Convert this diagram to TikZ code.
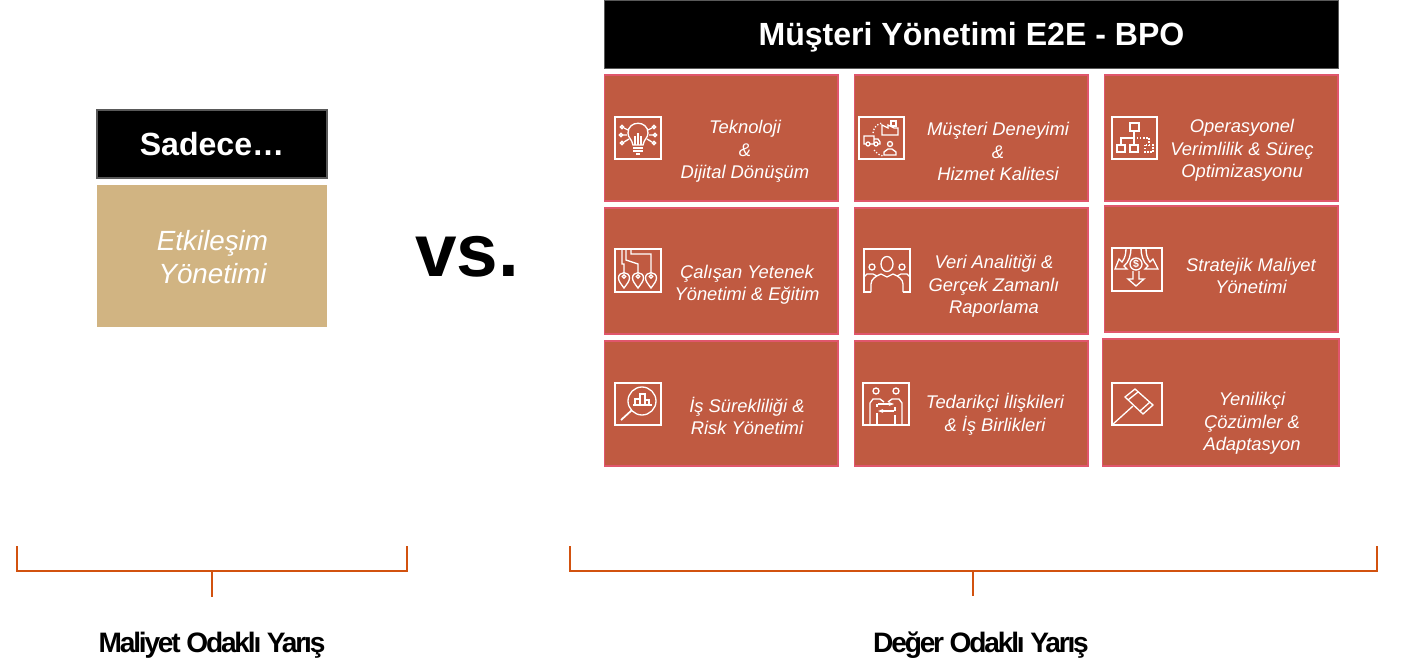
\documentclass[tikz,border=0pt]{standalone}
\usepackage{fontspec}
\setmainfont{Liberation Sans}
\newfontfamily\tightfont[LetterSpace=-7.8]{Liberation Sans}
\usetikzlibrary{arrows.meta}
\usetikzlibrary{positioning}
\definecolor{tilered}{HTML}{C05A41}
\definecolor{tileedge}{HTML}{E0566C}
\definecolor{tantile}{HTML}{D1B482}
\definecolor{bracketorange}{HTML}{D2520F}
\tikzset{
    tilebox/.style={rectangle, draw=tileedge, line width=0.6pt, fill=tilered, inner sep=0pt},
    tiletext/.style={align=center, text=white, inner sep=0pt, font=\fontsize{10.45}{12.8}\selectfont\itshape},
    headbox/.style={rectangle, draw=black!65, line width=0.6pt, fill=black, text=white, inner sep=0pt, text height=13pt, text depth=0pt, font=\fontsize{18.25}{22}\selectfont\bfseries},
    bracketline/.style={draw=bracketorange, line width=0.75pt},
    sumtext/.style={inner sep=0pt, font=\fontsize{16}{18}\selectfont\tightfont\bfseries},
    iconline/.style={draw=white, line width=0.75pt},
    iconframe/.style={draw=white, line width=1pt},
    bulbicon/.pic={
        % Frame
        \draw[iconframe] (0,0) rectangle (46,42);
        % Bulb
        \draw[iconline] (18,28) .. controls (17,22) and (13,21) .. (13,16) .. controls (13,3) and (33,3) .. (33,16) .. controls (33,21) and (29,22) .. (28,28) -- cycle;
        \draw[iconline] (18,31) -- (28,31) (18,34) -- (28,34) (21,37) -- (25,37);
        \draw[iconline] (20,28) -- (20,19) (26,28) -- (26,19) (23,28) -- (23,16);
        % Branches
        \draw[iconline] (13,13) -- (9,11) (12,18) -- (8,18) (14,22) -- (9,25) (33,13) -- (37,11) (34,18) -- (38,18) (32,22) -- (37,25);
        \foreach \cx/\cy in {7/10, 6/18, 7/26, 39/10, 40/18, 39/26}
            \draw[iconline] (\cx,\cy) circle (1.6);
    },
    supplyicon/.pic={
        % Frame
        \draw[iconframe] (0,0) rectangle (45,42);
        % Factory and parcel
        \draw[iconline] (23,18) -- (23,8) -- (29,11) -- (29,8) -- (35,11) -- (39,11) -- (39,18) -- cycle;
        \draw[iconline] (32,4) rectangle (37,9);
        % Truck
        \draw[iconline] (5,19) rectangle (15,27) (15,22) -- (19,22) -- (21,25) -- (21,27) -- (15,27);
        \draw[iconline, fill=tilered] (9,27) circle (2) (17,27) circle (2);
        % Person
        \draw[iconline] (31,27) circle (2.5);
        \draw[iconline] (25,38) -- (25,35) -- (29,32) -- (33,32) -- (37,35) -- (37,38) -- cycle;
        % Route
        \draw[iconline, densely dotted] (14,16) .. controls (15,10) and (18,7) .. (23,6);
        \draw[iconline, densely dotted] (15,33) .. controls (17,36) and (20,38) .. (24,39);
    },
    flowicon/.pic={
        % Frame
        \draw[iconframe] (0,0) rectangle (45,42);
        % Boxes
        \draw[iconline] (18,6) rectangle (27,14) (5,28) rectangle (13,35) (18,28) rectangle (26,35);
        \draw[iconline, densely dotted] (33,28) rectangle (41,35);
        % Links
        \draw[iconline] (22,14) -- (22,28) (9,28) -- (9,21) -- (22,21);
        \draw[iconline, densely dotted] (22,21) -- (37,21) -- (37,28);
    },
    pinicon/.pic={
        % Frame
        \draw[iconframe] (0,0) rectangle (46,43);
        % Wires
        \draw[iconline] (7,0) -- (7,15) -- (9,15) -- (9,24) (11,0) -- (11,11) -- (23,15) -- (23,24) (16,0) -- (16,5) -- (36,5) -- (36,13) -- (36,24);
        % Pins
        \foreach \cx in {9,23,36} {
            \draw[iconline] (\cx,39) .. controls (\cx-3,35) and (\cx-5.5,32) .. (\cx-5.5,29) .. controls (\cx-5.5,22) and (\cx+5.5,22) .. (\cx+5.5,29) .. controls (\cx+5.5,32) and (\cx+3,35) .. (\cx,39) -- cycle;
            \draw[iconline] (\cx,27.5) circle (1.8);
        }
    },
    peopleicon/.pic={
        % Frame, open at the bottom
        \draw[iconframe] (7,43) -- (0,43) -- (0,0) -- (46,0) -- (46,43) -- (39,43);
        % Heads
        \draw[iconline] (23,15) ellipse (6 and 7.5);
        \draw[iconline] (8,18) circle (3) (38,18) circle (3);
        % Shoulders
        \draw[iconline] (7,43) -- (7,35) .. controls (7,30) and (12,27) .. (17,25) -- (23,28) -- (29,25) .. controls (34,27) and (39,30) .. (39,35) -- (39,43);
        \draw[iconline] (0,28) -- (3,25) -- (9,25) -- (13,27) (46,28) -- (43,25) -- (37,25) -- (33,27);
    },
    spliticon/.pic={
        % Frame
        \draw[iconframe] (0,0) rectangle (50,43);
        % Coin
        \draw[iconline] (24,16) circle (6);
        \node[text=white, inner sep=0pt, font=\fontsize{6}{6}\selectfont\bfseries] (coin) at (24,16) {\$};
        % Down arrow
        \draw[iconline] (21,23) -- (21,31) -- (16,31) -- (24,38) -- (32,31) -- (27,31) -- (27,23);
        % Side arrows
        \draw[iconline] (14,0) .. controls (14,6) and (13,10) .. (10,14) -- (7,11) -- (3,21) -- (15,21) -- (12,18) .. controls (17,14) and (19,7) .. (19,0);
        \draw[iconline] (34,0) .. controls (34,6) and (35,10) .. (38,14) -- (41,11) -- (46,21) -- (33,21) -- (36,18) .. controls (31,14) and (29,7) .. (29,0);
    },
    lensicon/.pic={
        % Frame
        \draw[iconframe] (0,0) rectangle (46,42);
        % Lens
        \draw[iconline] (27,18) circle (14);
        \draw[iconline, line width=1pt] (17,27) -- (6,37);
        % Bars
        \draw[iconline] (18,22) -- (37,22);
        \draw[iconline] (20,22) rectangle (25,16) (25,22) rectangle (30,11) (30,22) rectangle (34,17);
    },
    swapicon/.pic={
        % Frame
        \draw[iconframe] (0,0) rectangle (46,42);
        % Heads
        \draw[iconline] (13,8) circle (3) (33,8) circle (3);
        % Bodies
        \draw[iconline] (7,42) -- (7,20) -- (10,16) -- (17,16) -- (21,19);
        \draw[iconline] (39,42) -- (39,20) -- (36,16) -- (29,16) -- (25,19);
        \draw[iconline] (14,30) -- (14,42) (32,32) -- (32,42);
        \draw[iconline] (14,24) -- (14,21) (32,24) -- (32,28);
        % Arrows
        \draw[iconline, -{Stealth[length=3pt]}] (15,21) -- (31,21);
        \draw[iconline, -{Stealth[length=3pt]}] (31,28) -- (15,28);
    },
    hammericon/.pic={
        % Frame
        \draw[iconframe] (0,0) rectangle (50,42);
        % Head
        \draw[iconline] (13,14) -- (23,6) -- (41,22) -- (31,31) -- cycle;
        \draw[iconline] (16,17) -- (26,9) (28,28) -- (38,19);
        % Handle
        \draw[iconline] (21,23) -- (0,42);
    },
}
\begin{document}
\begin{tikzpicture}[x=0.02cm, y=-0.02cm]
    \useasboundingbox (0,0) rectangle (1404,663);

    % Left column
    \node[headbox, minimum width=4.6cm, minimum height=1.36cm] (sadece) at (212,144) {Sadece…};
    \node[rectangle, fill=tantile, inner sep=0pt, minimum width=4.6cm, minimum height=2.84cm] (etkilesim) at (212,256) {};
    \node[align=center, text=white, inner sep=0pt, font=\fontsize{15.8}{19}\selectfont\itshape] (etkilesimtext) at (212.5,257) {Etkileşim\\Yönetimi};

    % vs.
    \node[inner sep=0pt, font=\fontsize{42.5}{50}\selectfont\bfseries] (vs) at (467,257) {vs.};

    % Header of the right column
    \node[headbox, minimum width=14.7cm, minimum height=1.36cm] (e2e) at (971.5,34.5) {Müşteri Yönetimi E2E - BPO};

    % Tiles, row one
    \node[tilebox, minimum width=4.68cm, minimum height=2.52cm] (tile1) at (721,138) {};
    \node[tilebox, minimum width=4.68cm, minimum height=2.52cm] (tile2) at (971,138) {};
    \node[tilebox, minimum width=4.68cm, minimum height=2.52cm] (tile3) at (1221,138) {};
    % Tiles, row two
    \node[tilebox, minimum width=4.68cm, minimum height=2.52cm] (tile4) at (721,271) {};
    \node[tilebox, minimum width=4.68cm, minimum height=2.52cm] (tile5) at (971,271) {};
    \node[tilebox, minimum width=4.68cm, minimum height=2.52cm] (tile6) at (1221,269) {};
    % Tiles, row three
    \node[tilebox, minimum width=4.68cm, minimum height=2.5cm] (tile7) at (721,403.5) {};
    \node[tilebox, minimum width=4.68cm, minimum height=2.5cm] (tile8) at (971,403.5) {};
    \node[tilebox, minimum width=4.74cm, minimum height=2.54cm] (tile9) at (1220.5,402.5) {};

    % Icons
    \pic (iconbulb) at (615,117) {bulbicon};
    \pic (iconsupply) at (859,117) {supplyicon};
    \pic (iconflow) at (1112,117) {flowicon};
    \pic (iconpin) at (615,249) {pinicon};
    \pic (iconpeople) at (864,249) {peopleicon};
    \pic (iconsplit) at (1112,248) {spliticon};
    \pic (iconlens) at (615,383) {lensicon};
    \pic (iconswap) at (863,383) {swapicon};
    \pic (iconhammer) at (1112,383) {hammericon};

    % Tile labels
    \node[tiletext] (text1) at (745,151.5) {Teknoloji\\\&\\Dijital Dönüşüm};
    \node[tiletext] (text2) at (998,151.5) {Müşteri Deneyimi\\\&\\Hizmet Kalitesi};
    \node[tiletext] (text3) at (1242,150.5) {Operasyonel\\Verimlilik \& Süreç\\Optimizasyonu};
    \node[tiletext] (text4) at (747,285) {Çalışan Yetenek\\Yönetimi \& Eğitim};
    \node[tiletext] (text5) at (994,286.5) {Veri Analitiği \&\\Gerçek Zamanlı\\Raporlama};
    \node[tiletext] (text6) at (1251,276) {Stratejik Maliyet\\Yönetimi};
    \node[tiletext] (text7) at (747,416) {İş Sürekliliği \&\\Risk Yönetimi};
    \node[tiletext] (text8) at (995,414.5) {Tedarikçi İlişkileri\\\& İş Birlikleri};
    \node[tiletext] (text9) at (1252,423.5) {Yenilikçi\\Çözümler \&\\Adaptasyon};

    % Brackets
    \coordinate (leftA) at (17,546);
    \coordinate (leftB) at (407,546);
    \coordinate (leftC) at (212,571);
    \coordinate (leftD) at (212,597);
    \coordinate (rightA) at (570,546);
    \coordinate (rightB) at (1377,546);
    \coordinate (rightC) at (973,571);
    \coordinate (rightD) at (973,596);
    \draw[bracketline] (leftA) |- (leftC) -| (leftB);
    \draw[bracketline] (leftC) -- (leftD);
    \draw[bracketline] (rightA) |- (rightC) -| (rightB);
    \draw[bracketline] (rightC) -- (rightD);

    % Bottom labels
    \node[sumtext] (costlabel) at (212,645) {Maliyet Odaklı Yarış};
    \node[sumtext] (valuelabel) at (981,645) {Değer Odaklı Yarış};
\end{tikzpicture}
\end{document}
